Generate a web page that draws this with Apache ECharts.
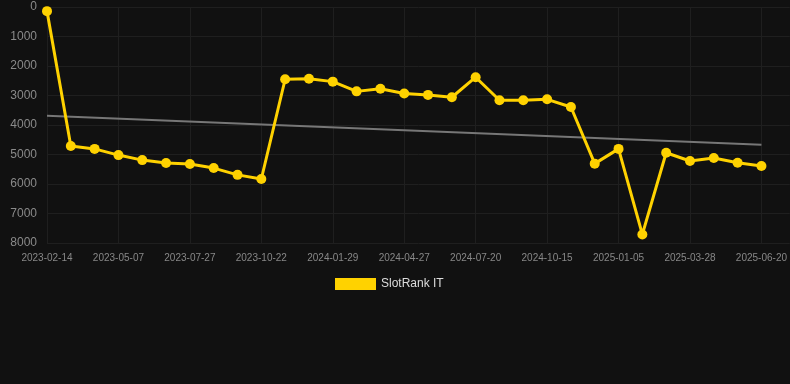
<!DOCTYPE html>
<html>
<head>
<meta charset="utf-8">
<script src="https://cdn.jsdelivr.net/npm/echarts@6/dist/echarts.min.js"></script>
<style>
html,body{margin:0;padding:0;background:#111111;}
#chart{width:790px;height:384px;}
</style>
</head>
<body>
<div id="chart"></div>
<script>
const dates = ['2023-02-14','2023-03-13','2023-04-09','2023-05-07','2023-06-03','2023-06-30','2023-07-27','2023-08-25','2023-09-23','2023-10-22','2023-11-25','2023-12-28','2024-01-29','2024-02-28','2024-03-28','2024-04-27','2024-05-25','2024-06-22','2024-07-20','2024-08-18','2024-09-16','2024-10-15','2024-11-11','2024-12-08','2025-01-05','2025-02-01','2025-03-01','2025-03-28','2025-04-25','2025-05-23','2025-06-20'];
const rankValues = [140,4710,4810,5020,5190,5290,5320,5460,5690,5830,2450,2430,2530,2860,2770,2930,2980,3060,2380,3160,3160,3130,3390,5310,4810,7710,4940,5220,5120,5280,5390];
const trendEnds = [3690,4670];
const yTicks = [0,1000,2000,3000,4000,5000,6000,7000,8000];

const chart = echarts.init(document.getElementById('chart'));
const seriesData = rankValues.map((v,i)=>[i,v]);
const trendData = [[0,trendEnds[0]],[dates.length-1,trendEnds[1]]];
chart.setOption({
  backgroundColor:'#111111',
  animation:false,
  grid:{left:47,right:0,top:7,bottom:141,containLabel:false},
  legend:{
    data:['SlotRank IT'],
    left:330, top:273,
    itemWidth:41, itemHeight:12, itemGap:6,
    icon:'rect',
    textStyle:{color:'#dddddd',fontSize:12,fontFamily:'Arial, Liberation Sans, sans-serif'}
  },
  xAxis:{
    type:'value', min:0, max:31.19, interval:3,
    axisLine:{show:false}, axisTick:{show:false},
    splitLine:{show:true,lineStyle:{color:'#1f1f1f',width:1}},
    axisLabel:{
      color:'#888888',fontSize:10,margin:10,
      fontFamily:'Arial, Liberation Sans, sans-serif',
      showMaxLabel:false,
      formatter:function(v){return Number.isInteger(v)&&dates[v]?dates[v]:'';}
    }
  },
  yAxis:{
    type:'value', inverse:true, min:yTicks[0], max:yTicks[yTicks.length-1], interval:1000,
    axisLine:{show:false}, axisTick:{show:false},
    splitLine:{show:true,lineStyle:{color:'#1f1f1f',width:1}},
    axisLabel:{color:'#8a8a8a',fontSize:12,margin:10,fontFamily:'Arial, Liberation Sans, sans-serif',
      formatter:function(v){return String(v);}}
  },
  series:[
    {
      name:'trend', type:'line', data:trendData,
      symbol:'none', silent:true,
      lineStyle:{color:'#777777',width:2},
      z:1
    },
    {
      name:'SlotRank IT', type:'line', data:seriesData,
      symbol:'circle', symbolSize:10,
      itemStyle:{color:'#FFD200'},
      lineStyle:{color:'#FFD200',width:3},
      z:3
    }
  ]
});
</script>
</body>
</html>
